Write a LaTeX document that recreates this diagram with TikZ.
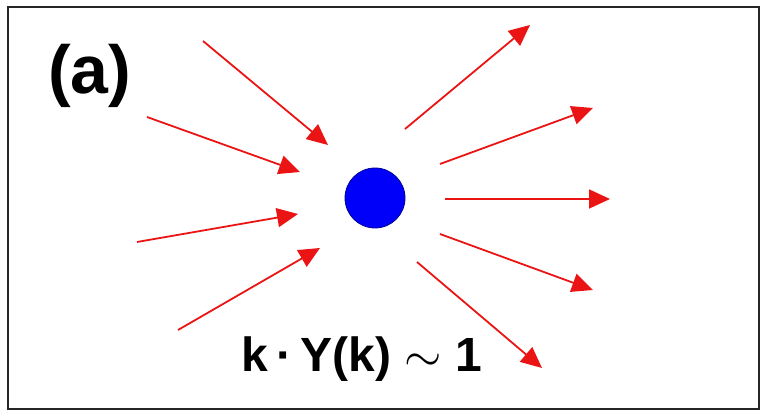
\documentclass[tikz,border=0pt]{standalone}
\usepackage{fix-cm}
\usepackage{fontspec}
\setmainfont{Liberation Sans}
\usetikzlibrary{arrows.meta}
\definecolor{arrred}{RGB}{235,20,20}
\definecolor{dotblue}{RGB}{0,0,250}
\begin{document}
\begin{tikzpicture}[x=1pt,y=-1pt,
  ray/.style={draw=arrred,line width=1.8pt,-{Triangle[length=21pt,width=19pt]}},
  dot/.style={circle,fill=dotblue,draw=blue!60!black,line width=0.8pt,minimum size=60pt,inner sep=0pt},
  frame/.style={draw=black!85,line width=2.4pt}]
\useasboundingbox (0,0) rectangle (761,411);
\draw[frame] (8,7) rectangle (759,409);
\node[dot] (c) at (375,198) {};
\node[anchor=base west,inner sep=0pt,font=\fontsize{68}{70}\selectfont\bfseries] (lab) at (48,94) {(a)};
\node[anchor=base,inner sep=0pt,font=\fontsize{48}{50}\selectfont\bfseries] (eq) at (362,372) {k\,·\,Y(k) $\sim$ 1};
% incoming
\coordinate (i1s) at (203,41);  \coordinate (i1e) at (328,145);
\coordinate (i2s) at (147,117); \coordinate (i2e) at (300,172);
\coordinate (i3s) at (137,242); \coordinate (i3e) at (298,214);
\coordinate (i4s) at (178,330); \coordinate (i4e) at (320,248);
% outgoing
\coordinate (o1s) at (405,129); \coordinate (o1e) at (530,25);
\coordinate (o2s) at (440,164); \coordinate (o2e) at (593,108);
\coordinate (o3s) at (445,199); \coordinate (o3e) at (610,199);
\coordinate (o4s) at (440,234); \coordinate (o4e) at (593,290);
\coordinate (o5s) at (417,262); \coordinate (o5e) at (542,368);
\foreach \a in {i1,i2,i3,i4,o1,o2,o3,o4,o5}{
  \draw[ray] (\a s) -- (\a e);
}
\end{tikzpicture}
\end{document}
